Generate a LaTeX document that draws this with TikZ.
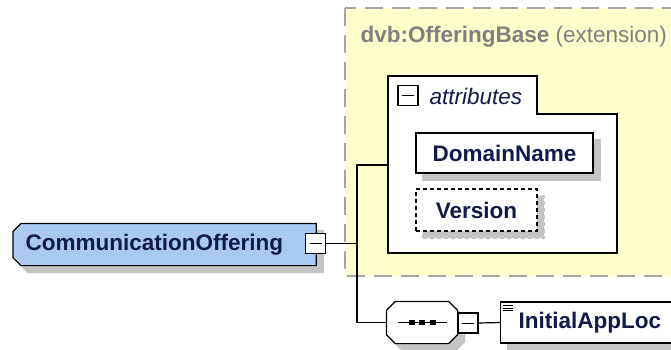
\documentclass[tikz,border=0pt]{standalone}
\usepackage{fontspec}
\setmainfont{Liberation Sans}
\usepackage{tikz}
\usetikzlibrary{shadows}

\definecolor{baseyellow}{RGB}{255,255,204}
\definecolor{elemblue}{RGB}{169,201,241}
\definecolor{namenavy}{RGB}{18,26,74}
\definecolor{shadowgray}{RGB}{196,196,196}
\definecolor{framegray}{RGB}{165,165,165}
\definecolor{titlegray}{RGB}{128,128,128}

\begin{document}
\begin{tikzpicture}[x=1pt, y=-1pt, line width=1.2pt,
    namefont/.style={font=\fontsize{22.5}{26}\selectfont\bfseries, text=namenavy},
    shadowed/.style={copy shadow={shadow xshift=7pt, shadow yshift=-7pt, draw=shadowgray, fill=shadowgray}},
    elembox/.style={draw=black, fill=white, namefont, inner sep=0pt, shadowed},
    toggle/.style={draw=black, fill=white, minimum size=20pt, inner sep=0pt,
      path picture={\draw[line width=1pt] ([xshift=4pt]path picture bounding box.west) -- ([xshift=-4pt]path picture bounding box.east);}}]
    \useasboundingbox (0,0) rectangle (671,349);
    \clip (0,0) rectangle (671,349);

    % draw base type frame
    \draw[fill=baseyellow, draw=framegray, line width=1.5pt, dash pattern=on 18pt off 9pt] (345,8) rectangle (690,276);
    \node[anchor=west, inner sep=0pt, font=\fontsize{22.5}{26}\selectfont, text=titlegray] (basetitle) at (360,37) {\textbf{dvb:OfferingBase} (extension)};

    % draw attribute panel
    \draw[fill=white] (388,76) -- (537,76) -- (537,114) -- (617,114) -- (617,253) -- (388,253) -- cycle;
    \node[toggle] (attrtoggle) at (408,95.5) {};
    \node[anchor=west, inner sep=0pt, font=\fontsize{22.5}{26}\selectfont\itshape, text=namenavy] (attrlabel) at (429,96) {attributes};
    \coordinate (attrin) at (388,165);

    % draw attributes
    \node[elembox, minimum width=177pt, minimum height=40pt] (domainname) at (504.5,153) {DomainName};
    \node[elembox, dash pattern=on 4pt off 3pt, minimum width=121pt, minimum height=42pt] (version) at (476.5,210) {Version};

    % draw placeholders for element and sequence
    \node[namefont, anchor=west, inner xsep=12pt, inner ysep=0pt, minimum height=41pt, text width=278pt, align=left] (offering) at (13,244.5) {};
    \node[minimum width=70pt, minimum height=41pt, inner sep=0pt] (seq) at (422,322.5) {};
    \node[toggle] (offtoggle) at (315.5,243.5) {};
    \node[toggle] (seqtoggle) at (468,323) {};
    \node[elembox, anchor=west, minimum height=41pt, inner xsep=18pt, inner ysep=0pt, text width=170pt, align=left] (apploc) at (500,322.5) {InitialAppLoc};

    % draw connectors
    \coordinate (fork) at (357,165);
    \draw (offtoggle.east) -- (offtoggle.east -| fork);
    \draw (attrin) -- (fork) |- (seq.west);
    \draw (seqtoggle.east) -- (apploc.west);

    % draw element outline
    \draw[fill=elemblue, shadowed] (offering.north east) -- (offering.south east)
      -- ([xshift=8pt]offering.south west) -- ([yshift=8pt]offering.south west)
      -- ([yshift=-8pt]offering.north west) -- ([xshift=8pt]offering.north west) -- cycle;
    \node[namefont, anchor=west, inner sep=0pt] (offeringname) at (25,244.5) {CommunicationOffering};
    \node[toggle] at (offtoggle) {};

    % draw sequence compositor
    \draw[fill=white, shadowed] ([xshift=9pt]seq.north west) -- ([xshift=-9pt]seq.north east)
      -- ([yshift=-9pt]seq.north east) -- ([yshift=9pt]seq.south east)
      -- ([xshift=-9pt]seq.south east) -- ([xshift=9pt]seq.south west)
      -- ([yshift=9pt]seq.south west) -- ([yshift=-9pt]seq.north west) -- cycle;
    \draw ([xshift=-24pt]seq.center) -- ([xshift=25pt]seq.center);
    \foreach \dx in {-10,0,11}
      \fill ([xshift=\dx pt]seq.center) +(-2.8,-2.2) rectangle +(2.8,2.2);
    \node[toggle] at (seqtoggle) {};

    % draw simple content icon
    \foreach \dy in {0,2.5,5}
      \draw[line width=0.8pt] ([shift={(3,4+\dy)}]apploc.north west) -- ++(10,0);

\end{tikzpicture}
\end{document}
